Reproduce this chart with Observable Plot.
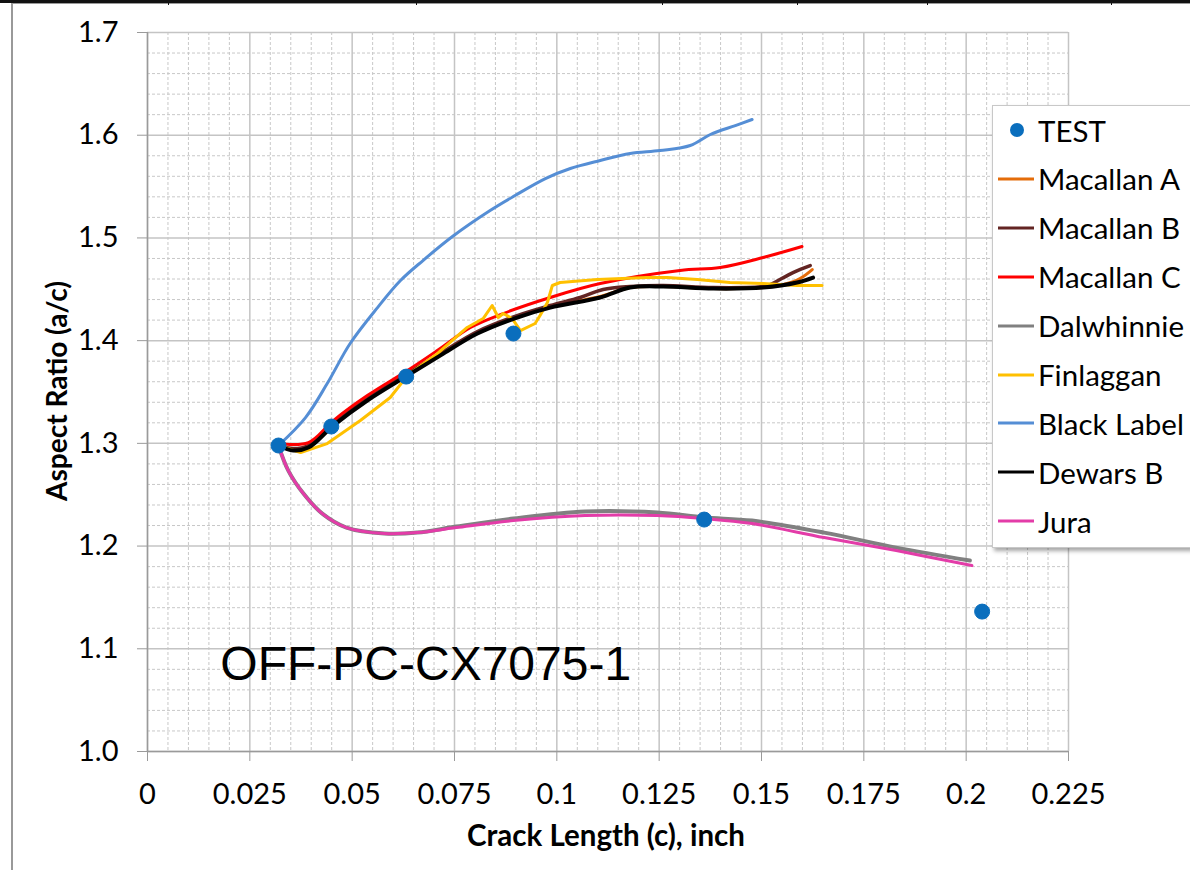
<!DOCTYPE html>
<html>
<head>
<meta charset="utf-8">
<script src="https://cdn.jsdelivr.net/npm/d3@7"></script>
<script src="https://cdn.jsdelivr.net/npm/@observablehq/plot@0.6"></script>
<style>
  html, body { margin: 0; padding: 0; background: #fff; }
  #wrap { position: relative; width: 1190px; height: 870px; overflow: hidden; font-family: Lato, "Open Sans", sans-serif; }
  #chart { position: absolute; left: 0; top: 0; }
  .topbar { position: absolute; left: 0; top: 0; width: 1190px; height: 3px; background: #111; }
  .topline { position: absolute; left: 12px; top: 3px; width: 1178px; height: 1px; background: #999; }
  .sep { position: absolute; top: 0; width: 1px; height: 5px; background: #111; }
  .leftline { position: absolute; left: 11px; top: 3px; width: 2px; height: 867px; background: #999; }
  .ytitle { position: absolute; left: 56px; top: 391px; transform: translate(-50%, -50%) rotate(-90deg); font-weight: 700; font-size: 28px; white-space: nowrap; color: #000; }
  .xtitle { position: absolute; left: 606px; top: 834px; transform: translate(-50%, -50%); font-weight: 700; font-size: 29.5px; white-space: nowrap; color: #000; }
  #legend { position: absolute; left: 992px; top: 105px; width: 200px; height: 443px; background: #fff; border: 1px solid #c8c8c8; box-shadow: 2px 3px 4px rgba(0,0,0,0.35); box-sizing: border-box; }
  .item { position: absolute; left: 0; height: 40px; display: flex; align-items: center; font-size: 29.5px; color: #000; white-space: nowrap; }
  .item svg { margin-left: 5px; margin-right: 4px; }
</style>
</head>
<body>
<div id="wrap">
  <div id="chart"></div>
  <div class="topbar"></div>
  <div class="topline"></div>
  <div class="leftline"></div>
  <div class="ytitle">Aspect Ratio (a/c)</div>
  <div class="xtitle">Crack Length (c), inch</div>
  <div id="legend"></div>
</div>
<script>
// ---------- Data ----------
const xTicks = [0, 0.025, 0.05, 0.075, 0.1, 0.125, 0.15, 0.175, 0.2, 0.225];
const xTickLabels = ["0", "0.025", "0.05", "0.075", "0.1", "0.125", "0.15", "0.175", "0.2", "0.225"];
const yTicks = [1.0, 1.1, 1.2, 1.3, 1.4, 1.5, 1.6, 1.7];
const yTickLabels = ["1.0", "1.1", "1.2", "1.3", "1.4", "1.5", "1.6", "1.7"];

const testX = [0.0320, 0.0449, 0.0632, 0.0894, 0.1360, 0.2039];
const testY = [1.2979, 1.3164, 1.3650, 1.4069, 1.2258, 1.1362];

const macallanA = [[0.0320,1.2979],[0.0356,1.2940],[0.0393,1.2969],[0.0454,1.3183],[0.0537,1.3426],[0.0635,1.3670],[0.0723,1.3884],[0.0806,1.4079],[0.0903,1.4235],[0.0984,1.4332],[0.1106,1.4429],[0.1179,1.4517],[0.1260,1.4527],[0.1382,1.4507],[0.1504,1.4517],[0.1553,1.4546],[0.1594,1.4605],[0.1624,1.4692]];
const macallanB = [[0.0320,1.2979],[0.0356,1.2949],[0.0393,1.2979],[0.0454,1.3193],[0.0537,1.3436],[0.0635,1.3680],[0.0723,1.3894],[0.0806,1.4089],[0.0903,1.4244],[0.0984,1.4342],[0.1057,1.4420],[0.1113,1.4498],[0.1179,1.4527],[0.1260,1.4537],[0.1382,1.4517],[0.1504,1.4527],[0.1521,1.4546],[0.1577,1.4663],[0.1619,1.4731]];
const macallanC = [[0.0320,1.2998],[0.0393,1.3008],[0.0454,1.3222],[0.0537,1.3465],[0.0635,1.3709],[0.0708,1.3904],[0.0789,1.4128],[0.0869,1.4264],[0.0984,1.4420],[0.1106,1.4556],[0.1301,1.4683],[0.1399,1.4712],[0.1504,1.4809],[0.1599,1.4916]];
const dalwhinnie = [[0.0320,1.2979],[0.0344,1.2735],[0.0381,1.2511],[0.0427,1.2316],[0.0486,1.2180],[0.0579,1.2122],[0.0659,1.2131],[0.0754,1.2190],[0.0894,1.2268],[0.1069,1.2336],[0.1245,1.2326],[0.1360,1.2278],[0.1477,1.2248],[0.1653,1.2131],[0.1829,1.1985],[0.2009,1.1859]];
const finlaggan = [[0.0320,1.2979],[0.0374,1.2910],[0.0439,1.2998],[0.0520,1.3222],[0.0593,1.3446],[0.0635,1.3660],[0.0708,1.3874],[0.0781,1.4128],[0.0820,1.4215],[0.0842,1.4342],[0.0857,1.4225],[0.0869,1.4264],[0.0891,1.4215],[0.0911,1.4098],[0.0947,1.4167],[0.0959,1.4244],[0.0977,1.4371],[0.0989,1.4537],[0.1008,1.4566],[0.1099,1.4595],[0.1221,1.4614],[0.1270,1.4614],[0.1343,1.4595],[0.1423,1.4566],[0.1504,1.4556],[0.1587,1.4537],[0.1648,1.4537]];
const blackLabel = [[0.0320,1.2979],[0.0386,1.3251],[0.0439,1.3582],[0.0495,1.3972],[0.0562,1.4322],[0.0618,1.4585],[0.0673,1.4780],[0.0745,1.5014],[0.0837,1.5267],[0.0898,1.5413],[0.0972,1.5578],[0.1033,1.5676],[0.1106,1.5754],[0.1179,1.5822],[0.1252,1.5851],[0.1326,1.5900],[0.1375,1.6007],[0.1436,1.6094],[0.1477,1.6153]];
const dewarsB = [[0.0320,1.2979],[0.0356,1.2930],[0.0393,1.2959],[0.0454,1.3173],[0.0537,1.3417],[0.0635,1.3660],[0.0723,1.3874],[0.0806,1.4069],[0.0903,1.4225],[0.0984,1.4322],[0.1106,1.4420],[0.1179,1.4517],[0.1260,1.4527],[0.1382,1.4507],[0.1504,1.4517],[0.1587,1.4566],[0.1626,1.4614]];
const jura = [[0.0320,1.2979],[0.0344,1.2735],[0.0381,1.2511],[0.0427,1.2316],[0.0486,1.2180],[0.0579,1.2122],[0.0659,1.2131],[0.0754,1.2180],[0.0894,1.2248],[0.1069,1.2297],[0.1245,1.2297],[0.1360,1.2268],[0.1477,1.2219],[0.1653,1.2083],[0.1829,1.1956],[0.2014,1.1810]];

const seriesNames = ["Macallan A", "Macallan B", "Macallan C", "Dalwhinnie", "Finlaggan", "Black Label", "Dewars B", "Jura"];
const seriesColors = ["#E46C0A", "#632523", "#FF0000", "#808080", "#FFC000", "#558ED5", "#000000", "#E33CA8"];
const seriesWidths = [3, 3.5, 3, 4, 3, 3, 4, 3];
const seriesCurves = ["catmull-rom", "catmull-rom", "catmull-rom", "catmull-rom", "linear", "catmull-rom", "catmull-rom", "catmull-rom"];
const seriesData = [macallanA, macallanB, macallanC, dalwhinnie, finlaggan, blackLabel, dewarsB, jura];

const testName = "TEST";
const testColor = "#0A6EBD";
const annotation = [{x: 0.0178, y: 1.0846, text: "OFF-PC-CX7075-1"}];

// ---------- Build ----------
const test = testX.map((x, i) => ({x, y: testY[i]}));
const minorX = d3.range(0, 0.2251, 0.005).filter(v => Math.abs(v / 0.025 - Math.round(v / 0.025)) > 1e-6);
const minorY = d3.range(1.0, 1.7001, 0.02).filter(v => Math.abs(v / 0.1 - Math.round(v / 0.1)) > 1e-6);

const lineMarks = seriesData.map((pts, i) =>
  Plot.line(pts, {x: d => d[0], y: d => d[1], stroke: seriesColors[i], strokeWidth: seriesWidths[i], curve: seriesCurves[i], strokeLinejoin: "round", strokeLinecap: "round"})
);

const chart = Plot.plot({
  width: 1190,
  height: 870,
  marginLeft: 147,
  marginRight: 122,
  marginTop: 32,
  marginBottom: 119,
  style: {fontFamily: "Lato, 'Open Sans', sans-serif", fontSize: "29px", color: "#000", background: "transparent"},
  x: {domain: [0, 0.225]},
  y: {domain: [1.0, 1.7]},
  marks: [
    Plot.ruleX(minorX, {stroke: "#c8c8c8", strokeWidth: 1, strokeDasharray: "3,2"}),
    Plot.ruleY(minorY, {stroke: "#c8c8c8", strokeWidth: 1, strokeDasharray: "3,2"}),
    Plot.ruleX(xTicks, {stroke: "#c4c4c4", strokeWidth: 1.5}),
    Plot.ruleY(yTicks, {stroke: "#c4c4c4", strokeWidth: 1.5}),
    Plot.ruleX([0], {stroke: "#9a9a9a", strokeWidth: 1.5}),
    Plot.ruleY([1.0], {stroke: "#9a9a9a", strokeWidth: 1.5}),
    Plot.axisX({ticks: xTicks, tickFormat: (d, i) => xTickLabels[i], tickSize: 10, tickPadding: 22, stroke: "#9a9a9a", fill: "#000", label: null, fontSize: 29}),
    Plot.axisY({ticks: yTicks, tickFormat: (d, i) => yTickLabels[i], tickSize: 10, tickPadding: 19, stroke: "#9a9a9a", fill: "#000", label: null, fontSize: 29}),
    ...lineMarks,
    Plot.dot(test, {x: "x", y: "y", r: 7.5, fill: testColor, stroke: testColor, strokeWidth: 1}),
    Plot.text(annotation, {x: "x", y: "y", text: "text", textAnchor: "start", fontSize: 48, fontFamily: "'Liberation Sans', Arial, sans-serif", fill: "#000"})
  ]
});
document.getElementById("chart").appendChild(chart);

// top separators (spreadsheet borders)
[168, 416, 662, 797, 927, 1111].forEach(x => {
  const s = document.createElement("div");
  s.className = "sep"; s.style.left = x + "px";
  document.getElementById("wrap").appendChild(s);
});

// ---------- Legend ----------
const legend = document.getElementById("legend");
const entries = [{name: testName, color: testColor, dot: true}].concat(seriesNames.map((n, i) => ({name: n, color: seriesColors[i], dot: false})));
entries.forEach((e, i) => {
  const div = document.createElement("div");
  div.className = "item";
  div.style.top = (25 - 1 - 20 + i * 48.9) + "px";
  const sw = e.dot
    ? `<svg width="36" height="20"><circle cx="19" cy="10" r="7" fill="${e.color}"/></svg>`
    : `<svg width="36" height="20"><line x1="0" y1="10" x2="36" y2="10" stroke="${e.color}" stroke-width="3"/></svg>`;
  div.innerHTML = sw + `<span>${e.name}</span>`;
  legend.appendChild(div);
});
</script>
</body>
</html>
